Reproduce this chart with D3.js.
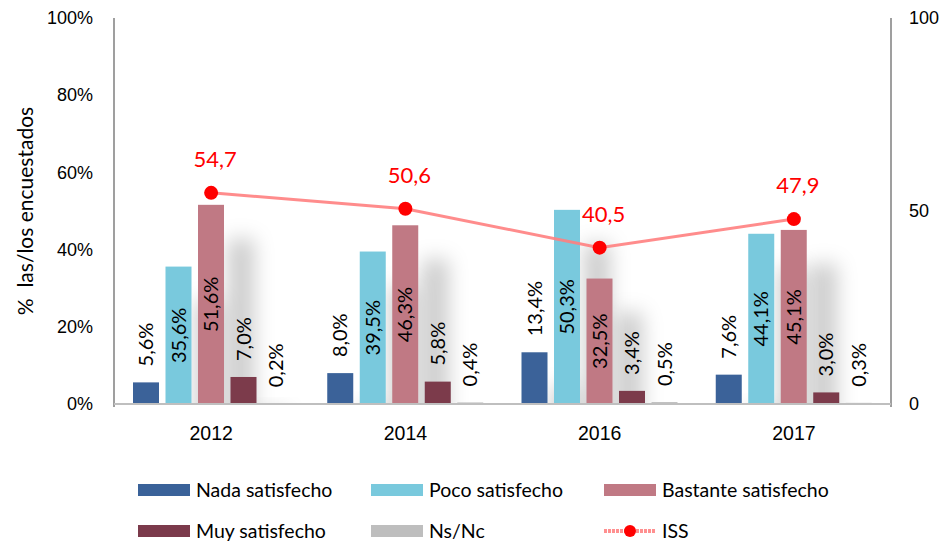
<!DOCTYPE html>
<html>
<head>
<meta charset="utf-8">
<style>
    body { margin: 0; background: #fff; }
    svg { font-family: Lato, "Open Sans", sans-serif; }
    .axis .domain { display: none; }
    .axis .tick line { display: none; }
    .axis .tick text { font-size: 18px; fill: #000; }
    .x.axis .tick text { font-size: 19.5px; }
</style>
</head>
<body>
<svg width="945" height="542"></svg>
<script src="https://d3js.org/d3.v7.min.js"></script>
<script>
// data
const years = ["2012", "2014", "2016", "2017"];
const seriesNames = ["Nada satisfecho", "Poco satisfecho", "Bastante satisfecho", "Muy satisfecho", "Ns/Nc"];
const nada = [5.6, 8.0, 13.4, 7.6];
const poco = [35.6, 39.5, 50.3, 44.1];
const bastante = [51.6, 46.3, 32.5, 45.1];
const muy = [7.0, 5.8, 3.4, 3.0];
const nsnc = [0.2, 0.4, 0.5, 0.3];
const iss = [54.7, 50.6, 40.5, 47.9];
const leftTicks = [0, 20, 40, 60, 80, 100];
const rightTicks = [0, 50, 100];

const colors = ["#3A6299", "#79C9DD", "#C07984", "#7B3A4B", "#BEBEBE"];
const values = [nada, poco, bastante, muy, nsnc];

const margin = { top: 18, right: 54, bottom: 138, left: 114 };
const width = 945, height = 542;

const svg = d3.select("svg");

const x0 = d3.scaleBand()
    .domain(years)
    .range([margin.left, width - margin.right]);

const x1 = d3.scaleBand()
    .domain(seriesNames)
    .range([19, 175])
    .paddingInner(0.2);

const y = d3.scaleLinear()
    .domain([0, 100])
    .range([height - margin.bottom, margin.top]);

const yRight = d3.scaleLinear()
    .domain([0, 100])
    .range([height - margin.bottom, margin.top]);

const fmt = v => d3.format(".1f")(v).replace(".", ",");

// shadow filter
const defs = svg.append("defs");
const f = defs.append("filter")
    .attr("id", "shadow")
    .attr("x", "-100%").attr("y", "-50%")
    .attr("width", "400%").attr("height", "250%");
f.append("feGaussianBlur").attr("in", "SourceAlpha").attr("stdDeviation", 10).attr("result", "blur");
f.append("feOffset").attr("in", "blur").attr("dx", 30).attr("dy", 34).attr("result", "off");
f.append("feFlood").attr("flood-color", "#000").attr("flood-opacity", 0.2);
f.append("feComposite").attr("in2", "off").attr("operator", "in").attr("result", "sh");
const fm = f.append("feMerge");
fm.append("feMergeNode").attr("in", "sh");
fm.append("feMergeNode").attr("in", "SourceGraphic");

defs.append("clipPath").attr("id", "plot")
    .append("rect")
    .attr("x", margin.left).attr("y", 0)
    .attr("width", width - margin.left - margin.right)
    .attr("height", y(0));

// axes lines
svg.append("line")
    .attr("x1", margin.left).attr("x2", margin.left)
    .attr("y1", y(100)).attr("y2", y(0) + 3)
    .attr("stroke", "#7F7F7F").attr("stroke-width", 1.5);
svg.append("line")
    .attr("x1", width - margin.right).attr("x2", width - margin.right)
    .attr("y1", y(100)).attr("y2", y(0) + 3)
    .attr("stroke", "#7F7F7F").attr("stroke-width", 1.5);

// bars
const barG = svg.append("g").attr("clip-path", "url(#plot)");
seriesNames.forEach((s, si) => {
    barG.append("g")
        .selectAll("rect")
        .data(years.map((yr, i) => ({ yr: yr, v: values[si][i] })))
        .join("rect")
        .attr("x", d => x0(d.yr) + x1(s))
        .attr("y", d => y(d.v))
        .attr("width", x1.bandwidth())
        .attr("height", d => y(0) - y(d.v))
        .attr("fill", colors[si])
        .attr("filter", "url(#shadow)");
});

// baseline
svg.append("line")
    .attr("x1", margin.left).attr("x2", width - margin.right)
    .attr("y1", y(0)).attr("y2", y(0))
    .attr("stroke", "#BFBFBF").attr("stroke-width", 2);

// bar labels
seriesNames.forEach((s, si) => {
    svg.append("g")
        .selectAll("text")
        .data(years.map((yr, i) => ({ yr: yr, v: values[si][i] })))
        .join("text")
        .attr("transform", d => {
            const cx = x0(d.yr) + x1(s) + x1.bandwidth() / 2 + 7;
            const cy = d.v > 20 ? y(d.v / 2) : y(d.v) - 16;
            return `translate(${cx},${cy}) rotate(-90)`;
        })
        .attr("text-anchor", d => d.v > 20 ? "middle" : "start")
        .style("font-size", "20px")
        .style("fill", "#000")
        .text(d => fmt(d.v) + "%");
});

// ISS line
const lineData = years.map((yr, i) => ({ yr: yr, v: iss[i] }));
const cxOf = d => x0(d.yr) + x0.bandwidth() / 2;
svg.append("path")
    .datum(lineData)
    .attr("fill", "none")
    .attr("stroke", "#FF7F7F")
    .attr("stroke-width", 3)
    .attr("stroke-opacity", 0.9)
    .attr("d", d3.line().x(cxOf).y(d => yRight(d.v)));

svg.append("g")
    .selectAll("circle")
    .data(lineData)
    .join("circle")
    .attr("cx", cxOf)
    .attr("cy", d => yRight(d.v))
    .attr("r", 7)
    .attr("fill", "#FF0000");

svg.append("g")
    .selectAll("text")
    .data(lineData)
    .join("text")
    .attr("x", d => cxOf(d) + 4)
    .attr("y", d => yRight(d.v) - 26)
    .attr("text-anchor", "middle")
    .style("font-size", "22px")
    .style("fill", "#FF0000")
    .text(d => fmt(d.v));

// left axis
svg.append("g")
    .attr("class", "axis")
    .attr("transform", `translate(${margin.left},0)`)
    .call(d3.axisLeft(y).tickValues(leftTicks).tickSize(0).tickPadding(21).tickFormat(d => d + "%"));

// right axis
svg.append("g")
    .attr("class", "axis")
    .attr("transform", `translate(${width - margin.right},0)`)
    .call(d3.axisRight(yRight).tickValues(rightTicks).tickSize(0).tickPadding(18));

// x axis
svg.append("g")
    .attr("class", "x axis")
    .attr("transform", `translate(0,${y(0)})`)
    .call(d3.axisBottom(x0).tickSize(0).tickPadding(22));

// y title
svg.append("text")
    .attr("transform", `translate(33,${(y(0) + y(100)) / 2}) rotate(-90)`)
    .attr("text-anchor", "middle")
    .style("font-size", "21px")
    .text("% \u00a0las/los encuestados");

// legend
const legendItems = seriesNames.map((s, i) => ({ name: s, color: colors[i], type: "bar" }))
    .concat([{ name: "ISS", color: "#FF0000", type: "line" }]);
const legCols = [138, 371, 604];
const legRows = [490, 531];
const leg = svg.append("g");
legendItems.forEach((d, i) => {
    const lx = legCols[i % 3], ly = legRows[Math.floor(i / 3)];
    const g = leg.append("g").attr("transform", `translate(${lx},${ly})`);
    if (d.type === "bar") {
        g.append("rect").attr("x", 0).attr("y", -6).attr("width", 52).attr("height", 12).attr("fill", d.color);
    } else {
        g.append("line").attr("x1", 0).attr("x2", 52).attr("y1", 0).attr("y2", 0)
            .attr("stroke", "#FF9090").attr("stroke-width", 4).attr("stroke-dasharray", "3 1");
        g.append("circle").attr("cx", 26).attr("cy", 0).attr("r", 6).attr("fill", d.color);
    }
    g.append("text")
        .attr("x", 58).attr("y", 0)
        .attr("dy", "0.35em")
        .style("font-size", "19.5px")
        .style("fill", "#000")
        .text(d.name);
});
</script>
</body>
</html>
